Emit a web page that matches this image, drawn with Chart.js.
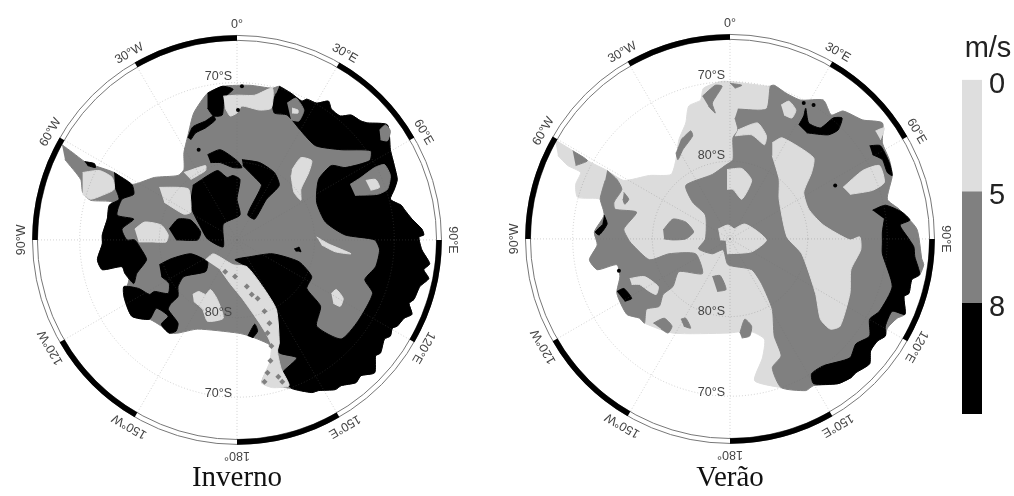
<!DOCTYPE html>
<html>
<head>
<meta charset="utf-8">
<title>Inverno / Verão</title>
<script src="https://cdn.jsdelivr.net/npm/chart.js@4"></script>
<style>
    body { margin: 0; background: #fff; overflow: hidden; }
    canvas { position: absolute; filter: blur(0.5px); }
    #map-winter { left: 0; top: 0; }
    #map-summer { left: 493px; top: 0; }
    #scale-bar { left: 960px; top: 0; }
</style>
</head>
<body>
<canvas id="map-winter" width="474" height="496"></canvas>
<canvas id="map-summer" width="474" height="496"></canvas>
<canvas id="scale-bar" width="54" height="496"></canvas>
<script>
// map units: distance from the pole, x towards 90E, y towards 0
const winterLand = [[-178,96],[-167,88],[-155,79],[-145,75],[-125,68],[-107,56],[-84,63],[-60,65],[-54,71],[-54,88],[-50,105],[-44,128],[-30,148],[-14,155],[13,156],[36,153],[43,155],[55,148],[66,140],[71,142],[81,138],[93,140],[96,132],[105,125],[116,126],[126,120],[133,118],[153,116],[156,91],[160,75],[163,61],[160,51],[156,41],[167,35],[170,31],[178,21],[188,11],[190,5],[185,3],[188,-10],[196,-24],[190,-30],[195,-39],[186,-47],[180,-60],[175,-64],[178,-75],[170,-79],[163,-87],[158,-89],[156,-97],[150,-100],[146,-114],[141,-117],[140,-134],[126,-137],[121,-144],[106,-147],[100,-151],[83,-152],[76,-154],[56,-150],[36,-147],[25,-144],[36,-120],[35,-107],[13,-97],[1,-94],[-40,-90],[-60,-94],[-69,-94],[-77,-87],[-89,-80],[-107,-77],[-115,-57],[-110,-40],[-117,-27],[-137,-30],[-142,-20],[-137,-4],[-137,5],[-132,21],[-127,38],[-149,40],[-157,48],[-159,61],[-175,81]];
const winterBlackWest = [[-125,68],[-107,56],[-105,46],[-117,41],[-122,25],[-105,21],[-117,11],[-112,0],[-104,0],[-97,-10],[-92,-20],[-102,-34],[-105,-44],[-114,-34],[-117,-27],[-137,-30],[-142,-20],[-137,-4],[-137,5],[-132,21],[-130,35],[-120,41],[-124,53]];
const winterBlackTip = [[-155,79],[-145,77],[-144,73],[-152,75]];
const winterBlackMid = [[-69,11],[-60,21],[-47,20],[-37,8],[-40,0],[-62,0]];
const winterBlackSouth = [[-79,-25],[-67,-19],[-47,-14],[-30,-22],[-32,-32],[-54,-37],[-60,-47],[-60,-57],[-67,-64],[-70,-70],[-60,-84],[-62,-92],[-69,-94],[-77,-85],[-70,-77],[-82,-69],[-89,-80],[-107,-77],[-115,-57],[-115,-47],[-100,-49],[-89,-55],[-84,-52],[-70,-54],[-69,-44],[-77,-37]];
const winterBlackEast = [[43,155],[55,148],[66,140],[71,142],[81,138],[93,140],[96,132],[105,125],[116,126],[126,120],[133,118],[153,116],[156,91],[160,75],[163,61],[160,51],[156,41],[167,35],[170,31],[178,21],[188,11],[190,5],[185,3],[188,-10],[196,-24],[190,-30],[195,-39],[186,-47],[180,-60],[175,-64],[178,-75],[170,-79],[163,-87],[158,-89],[156,-97],[150,-100],[146,-114],[141,-117],[140,-134],[126,-137],[121,-144],[106,-147],[100,-151],[83,-152],[76,-154],[56,-150],[48,-142],[46,-134],[61,-119],[43,-114],[43,-104],[40,-70],[26,-47],[10,-27],[-2,-20],[13,-17],[36,-14],[63,-22],[76,-37],[71,-49],[85,-67],[81,-87],[106,-100],[123,-82],[138,-54],[130,-40],[141,-27],[145,-10],[140,0],[110,5],[90,18],[81,38],[83,61],[96,75],[110,73],[135,80],[136,90],[106,91],[80,95],[65,110],[51,126],[38,128],[36,138],[40,148]];
const winterBlackTop = [[-30,148],[-15,155],[-4,152],[-13,143],[-15,126],[-24,125],[-30,133]];
const winterBlackStrip = [[-50,103],[-45,114],[-32,120],[-24,125],[-22,121],[-32,113],[-42,108],[-47,101]];
const winterBlackInner = [[-30,86],[-17,91],[0,80],[5,73],[-4,73],[-17,78],[-27,78]];
const winterBlackColumn = [[-45,55],[-20,70],[-10,63],[-4,65],[3,61],[0,41],[3,25],[-14,16],[-14,-7],[-30,1],[-37,13],[-47,33],[-47,43]];
const winterBlackArc = [[5,81],[23,78],[38,68],[43,55],[30,41],[18,21],[11,25],[13,31],[25,55],[20,61],[6,75]];
const winterBlackRoss = [[11,-97],[18,-85],[21,-92],[16,-99]];
const winterBlackSmall = [[58,-9],[65,-12],[63,-7]];
const winterGrayLobe = [[115,56],[126,63],[140,73],[150,76],[156,65],[153,51],[143,46],[120,45]];
const winterGrayTop = [[51,138],[60,143],[68,131],[63,120],[55,121]];
const winterGrayEdge = [[145,111],[151,116],[156,110],[153,100],[146,101]];
const winterLightTip = [[-157,68],[-140,70],[-127,63],[-125,51],[-137,45],[-149,41],[-157,46]];
const winterLightWest = [[-104,11],[-94,18],[-77,15],[-70,5],[-72,-2],[-87,-2],[-100,-2]];
const winterLightM = [[-45,-55],[-39,-52],[-32,-55],[-27,-50],[-20,-60],[-14,-79],[-30,-82],[-35,-70],[-44,-62]];
const winterLightRoss = [[-32,-20],[-24,-14],[-4,-25],[10,-27],[26,-47],[40,-70],[43,-104],[41,-112],[45,-130],[53,-147],[36,-149],[25,-144],[33,-124],[35,-107],[31,-97],[23,-84],[6,-60],[-7,-44],[-17,-30]];
const winterLightLobe = [[131,60],[141,61],[145,53],[136,50]];
const winterLightDot = [[56,133],[62,131],[62,128],[56,128]];
const winterLightNorth = [[-14,145],[0,146],[18,146],[36,153],[35,133],[23,131],[5,135],[0,128],[-7,125],[-12,133]];
const winterLightCentre = [[56,71],[65,83],[76,80],[73,68],[65,51],[65,40],[58,48],[55,65]];
const winterLightSliver = [[81,3],[93,-4],[116,-14],[100,-12],[86,-5]];
const winterLightOval = [[96,-54],[101,-50],[108,-59],[105,-67],[98,-64]];
const winterLightJoin = [[-54,68],[-32,75],[-32,70],[-47,61]];
const winterLightMid = [[-79,53],[-60,53],[-49,51],[-47,28],[-54,26],[-74,38]];
const winterGraySpecks = [[-12,-32],[-2,-37],[10,-47],[15,-55],[21,-59],[28,-72],[33,-84],[31,-94],[35,-107],[34,-122],[31,-134],[28,-143],[42,-138],[46,-143]];
const winterBlackSpecks = [[1,131],[5,155],[-39,91],[61,-10]];

const summerLand = [[-178,100],[-160,89],[-145,79],[-125,69],[-108,59],[-82,64],[-60,65],[-55,80],[-52,100],[-45,117],[-42,134],[-30,140],[-27,152],[-8,159],[15,157],[38,154],[45,155],[57,147],[72,140],[95,140],[103,125],[115,129],[135,120],[155,117],[155,97],[162,80],[165,64],[160,40],[172,30],[190,10],[195,-20],[197,-26],[193,-36],[185,-41],[182,-55],[177,-58],[178,-76],[170,-80],[160,-90],[158,-98],[150,-103],[143,-113],[142,-126],[128,-135],[123,-140],[110,-146],[85,-148],[77,-153],[52,-150],[25,-143],[33,-120],[35,-101],[20,-93],[-2,-95],[-58,-95],[-87,-85],[-92,-80],[-105,-76],[-115,-55],[-112,-38],[-115,-26],[-135,-31],[-143,-21],[-135,-6],[-138,7],[-128,24],[-132,40],[-155,42],[-157,55],[-152,67],[-165,74],[-175,84]];
const summerGrayMain = [[8,131],[37,131],[41,154],[45,155],[57,147],[72,140],[95,140],[103,125],[115,129],[135,120],[155,117],[155,97],[162,80],[165,64],[160,40],[172,30],[190,10],[195,-20],[197,-26],[193,-36],[185,-41],[182,-55],[177,-58],[178,-76],[170,-80],[160,-90],[158,-98],[150,-103],[143,-113],[142,-126],[128,-135],[123,-140],[110,-146],[85,-148],[77,-153],[52,-150],[43,-130],[52,-118],[45,-98],[43,-71],[32,-45],[22,-31],[-2,-26],[-7,-11],[-18,-15],[-32,-10],[-25,0],[-25,24],[-38,37],[-45,54],[-18,65],[-5,74],[3,80],[3,102],[8,110],[5,122]];
const summerGrayWest = [[-125,69],[-115,60],[-110,50],[-118,37],[-117,30],[-95,27],[-108,10],[-103,-1],[-100,-5],[-82,-21],[-62,-15],[-35,-15],[-28,-35],[-52,-33],[-58,-48],[-68,-56],[-72,-68],[-85,-71],[-87,-85],[-92,-80],[-105,-76],[-115,-55],[-112,-38],[-115,-26],[-135,-31],[-143,-21],[-135,-6],[-138,7],[-128,24],[-132,40],[-130,49],[-127,59]];
const summerGrayNorth = [[-28,144],[-15,155],[-8,154],[-18,137],[-15,127],[-22,134]];
const summerGrayTip = [[-160,89],[-145,79],[-157,74]];
const summerGrayCoast = [[-50,100],[-40,109],[-38,104],[-48,90],[-53,80],[-55,87]];
const summerGraySliver = [[-108,47],[-103,40],[-107,35],[-109,40]];
const summerGrayBlob = [[-68,9],[-58,20],[-45,17],[-37,7],[-45,0],[-58,-1],[-67,0]];
const summerGrayHook = [[-18,-38],[-10,-37],[-4,-51],[-13,-53]];
const summerGrayShelfA = [[-78,-85],[-67,-80],[-59,-88],[-63,-95],[-70,-91]];
const summerGrayShelfB = [[-50,-81],[-45,-80],[-40,-90],[-47,-88]];
const summerGrayShelfC = [[10,-95],[15,-81],[22,-88],[20,-98],[12,-100]];
const summerGrayStrip = [[0,157],[12,155],[5,152]];
const summerLightWest = [[-102,-40],[-87,-38],[-73,-48],[-75,-56],[-82,-53],[-92,-46],[-100,-46]];
const summerLightNorth = [[8,110],[28,117],[37,104],[35,95],[22,105],[5,104]];
const summerLightBlob = [[-3,70],[12,71],[22,59],[12,40],[3,50],[-3,50]];
const summerLightLower = [[-5,4],[15,15],[37,-1],[22,-13],[-3,-15]];
const summerLightDome = [[-12,10],[-2,14],[7,7],[5,-1],[-10,-1]];
const summerLightBand = [[43,97],[53,102],[85,82],[83,67],[75,47],[80,30],[95,14],[122,-1],[132,2],[133,-11],[123,-31],[122,-55],[112,-88],[102,-91],[92,-81],[87,-55],[73,-15],[58,2],[50,40],[50,60],[43,84]];
const summerLightOval = [[52,135],[60,139],[67,130],[63,122],[55,125]];
const summerLightEast = [[115,52],[135,69],[152,74],[157,57],[145,49],[122,45]];
const summerLightEdge = [[148,109],[157,112],[153,100]];
const summerBlackBay = [[70,115],[75,124],[77,132],[80,117],[92,112],[105,122],[114,122],[110,110],[100,105],[78,107]];
const summerBlackNE = [[142,94],[153,94],[162,77],[165,64],[160,67],[155,80],[145,85]];
const summerBlackEast = [[145,29],[158,34],[175,27],[183,19],[173,14],[182,0],[187,-8],[188,-18],[193,-36],[185,-41],[182,-55],[177,-58],[178,-76],[165,-73],[158,-88],[158,-98],[150,-103],[143,-113],[142,-126],[128,-135],[123,-140],[110,-146],[85,-146],[83,-136],[95,-128],[122,-120],[128,-106],[142,-98],[142,-81],[152,-73],[165,-48],[155,-15],[155,-3],[155,7],[157,20]];
const summerBlackWest = [[-128,24],[-125,15],[-133,4],[-137,7],[-130,14]];
const summerBlackSW = [[-115,-53],[-108,-50],[-100,-60],[-107,-63]];
const summerBlackSpecks = [[85,135],[75,137],[107,54],[-113,-32]];

const lonAngles = [0, 30, 60, 90, 120, 150, 180, 210, 240, 270, 300, 330];
const lonLabels = ['0°', '30°E', '60°E', '90°E', '120°E', '150°E', '180°', '150°W', '120°W', '90°W', '60°W', '30°W'];
const blackBandStarts = [30, 90, 150, 210, 270, 330];
const latRings = [79, 160];
const winterLatLabels = [['70°S', 160, 1], ['70°S', 160, -1], ['80°S', 79, -1]];
const summerLatLabels = [['70°S', 160, 1], ['80°S', 79, 1], ['70°S', 160, -1], ['80°S', 79, -1]];

const scaleClasses = ['0-5', '5-8', '8+'];
const scaleColors = ['#dedede', '#808080', '#000000'];
const scaleTicks = ['0', '5', '8'];

const BLACK = '#000000';
const GRAY = '#808080';
const LIGHT = '#dcdcdc';

function area(points, color) {
    return {
        data: points,
        showLine: true,
        fill: 'shape',
        backgroundColor: color,
        borderColor: color,
        borderWidth: 1,
        pointRadius: 0,
        tension: 0.2
    };
}

function specks(points, color, radius, style) {
    return {
        data: points,
        showLine: false,
        pointStyle: style,
        pointRadius: radius,
        pointBackgroundColor: color,
        pointBorderWidth: 0
    };
}

function toRad(lon) {
    return (lon - 90) * Math.PI / 180;
}

// rings, spokes, black and white frame and the text around it
function graticule(latLabels) {
    return {
        id: 'graticule',
        afterDatasetsDraw(chart) {
            const ctx = chart.ctx;
            const xs = chart.scales.x;
            const ys = chart.scales.y;
            const cx = xs.getPixelForValue(0);
            const cy = ys.getPixelForValue(0);
            const unit = xs.getPixelForValue(1) - cx;
            ctx.save();

            ctx.strokeStyle = 'rgba(110,110,110,0.3)';
            ctx.lineWidth = 1;
            ctx.setLineDash([1, 2]);
            latRings.forEach(r => {
                ctx.beginPath();
                ctx.arc(cx, cy, r * unit, 0, Math.PI * 2);
                ctx.stroke();
            });
            lonAngles.forEach(lon => {
                ctx.beginPath();
                ctx.moveTo(cx, cy);
                ctx.lineTo(cx + 203 * unit * Math.cos(toRad(lon)), cy + 203 * unit * Math.sin(toRad(lon)));
                ctx.stroke();
            });
            ctx.setLineDash([]);

            ctx.strokeStyle = '#777';
            [203, 208].forEach(r => {
                ctx.beginPath();
                ctx.arc(cx, cy, r * unit, 0, Math.PI * 2);
                ctx.stroke();
            });
            ctx.strokeStyle = '#000';
            ctx.lineWidth = 5.5;
            blackBandStarts.forEach(lon => {
                ctx.beginPath();
                ctx.arc(cx, cy, 205.5 * unit, toRad(lon), toRad(lon + 30));
                ctx.stroke();
            });

            ctx.fillStyle = '#444';
            ctx.font = '12.5px "Liberation Sans"';
            ctx.textAlign = 'center';
            ctx.textBaseline = 'middle';
            lonAngles.forEach((lon, i) => {
                ctx.save();
                ctx.translate(cx + 219 * unit * Math.cos(toRad(lon)), cy + 219 * unit * Math.sin(toRad(lon)));
                ctx.rotate(lon * Math.PI / 180);
                ctx.fillText(lonLabels[i], 0, 0);
                ctx.restore();
            });

            ctx.textAlign = 'right';
            ctx.textBaseline = 'bottom';
            latLabels.forEach(([text, r, side]) => {
                ctx.fillText(text, cx - 5, ys.getPixelForValue(side * r) + 1);
            });
            ctx.restore();
        }
    };
}

function makeMap(id, layers, caption, latLabels, yMax) {
    layers.forEach((d, i) => { d.order = layers.length - i; });
    return new Chart(document.getElementById(id), {
        type: 'scatter',
        data: { datasets: layers },
        options: {
            responsive: false,
            animation: false,
            devicePixelRatio: 1,
            layout: { padding: 0 },
            plugins: {
                legend: { display: false },
                tooltip: { enabled: false },
                title: {
                    display: true,
                    text: caption,
                    position: 'bottom',
                    color: '#111',
                    font: { family: '"Liberation Serif"', size: 29, weight: 'normal', lineHeight: 1.2 },
                    padding: { top: 6, bottom: 0 }
                }
            },
            scales: {
                x: { type: 'linear', display: false, min: -237, max: 237 },
                y: { type: 'linear', display: false, min: yMax - 455.2, max: yMax }
            }
        },
        plugins: [graticule(latLabels)]
    });
}

makeMap('map-winter', [
    area(winterLand, GRAY),
    area(winterBlackWest, BLACK),
    area(winterBlackTip, BLACK),
    area(winterBlackMid, BLACK),
    area(winterBlackSouth, BLACK),
    area(winterBlackEast, BLACK),
    area(winterBlackTop, BLACK),
    area(winterBlackStrip, BLACK),
    area(winterBlackInner, BLACK),
    area(winterBlackColumn, BLACK),
    area(winterBlackArc, BLACK),
    area(winterBlackRoss, BLACK),
    area(winterBlackSmall, BLACK),
    area(winterGrayLobe, GRAY),
    area(winterGrayTop, GRAY),
    area(winterGrayEdge, GRAY),
    area(winterLightTip, LIGHT),
    area(winterLightWest, LIGHT),
    area(winterLightM, LIGHT),
    area(winterLightRoss, LIGHT),
    area(winterLightLobe, LIGHT),
    area(winterLightDot, LIGHT),
    area(winterLightNorth, LIGHT),
    area(winterLightCentre, LIGHT),
    area(winterLightSliver, LIGHT),
    area(winterLightOval, LIGHT),
    area(winterLightJoin, LIGHT),
    area(winterLightMid, LIGHT),
    specks(winterGraySpecks, GRAY, 3, 'rectRot'),
    specks(winterBlackSpecks, BLACK, 2, 'circle')
], 'Inverno', winterLatLabels, 238);

makeMap('map-summer', [
    area(summerLand, LIGHT),
    area(summerGrayMain, GRAY),
    area(summerGrayWest, GRAY),
    area(summerGrayNorth, GRAY),
    area(summerGrayTip, GRAY),
    area(summerGrayCoast, GRAY),
    area(summerGraySliver, GRAY),
    area(summerGrayBlob, GRAY),
    area(summerGrayHook, GRAY),
    area(summerGrayShelfA, GRAY),
    area(summerGrayShelfB, GRAY),
    area(summerGrayShelfC, GRAY),
    area(summerGrayStrip, GRAY),
    area(summerLightWest, LIGHT),
    area(summerLightNorth, LIGHT),
    area(summerLightBlob, LIGHT),
    area(summerLightLower, LIGHT),
    area(summerLightDome, LIGHT),
    area(summerLightBand, LIGHT),
    area(summerLightOval, LIGHT),
    area(summerLightEast, LIGHT),
    area(summerLightEdge, LIGHT),
    area(summerBlackBay, BLACK),
    area(summerBlackNE, BLACK),
    area(summerBlackEast, BLACK),
    area(summerBlackWest, BLACK),
    area(summerBlackSW, BLACK),
    specks(summerBlackSpecks, BLACK, 2, 'circle')
], 'Verão', summerLatLabels, 237);

// colour key: one stacked segment per wind class
new Chart(document.getElementById('scale-bar'), {
    type: 'bar',
    data: {
        labels: ['key'],
        datasets: scaleClasses.map((name, i) => ({
            label: name,
            data: [1],
            backgroundColor: scaleColors[i],
            barPercentage: 1,
            categoryPercentage: 1
        }))
    },
    options: {
        responsive: false,
        animation: false,
        devicePixelRatio: 1,
        layout: { padding: { left: 2, bottom: 82 } },
        plugins: {
            legend: { display: false },
            tooltip: { enabled: false },
            title: {
                display: true,
                text: 'm/s',
                color: '#222',
                font: { family: '"Liberation Sans"', size: 29, weight: 'normal', lineHeight: 1.2 },
                padding: { top: 32, bottom: 13 }
            }
        },
        scales: {
            x: { stacked: true, display: false },
            y: {
                stacked: true,
                reverse: true,
                position: 'right',
                min: 0,
                max: 3,
                afterFit(scale) { scale.width = 32; },
                grid: { display: false, drawTicks: false },
                border: { display: false },
                ticks: {
                    stepSize: 1,
                    padding: 7,
                    labelOffset: 5,
                    color: '#222',
                    font: { family: '"Liberation Sans"', size: 29 },
                    callback: value => scaleTicks[value]
                }
            }
        }
    }
});
</script>
</body>
</html>
